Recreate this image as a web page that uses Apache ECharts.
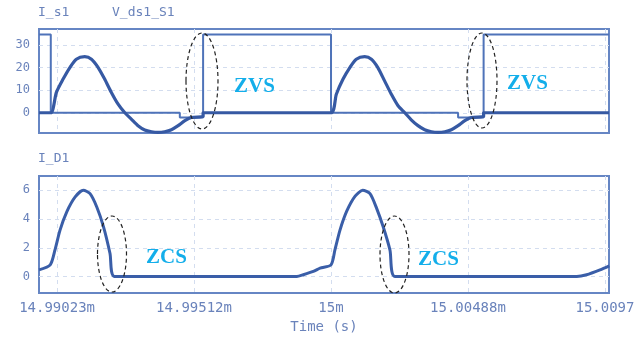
<!DOCTYPE html>
<html>
<head>
<meta charset="utf-8">
<script src="https://cdn.jsdelivr.net/npm/echarts@6/dist/echarts.min.js"></script>
<style>
html,body{margin:0;padding:0;background:#fff;}
#c{width:638px;height:338px;}
</style>
</head>
<body>
<div id="c"></div>
<script>
// ---- data (time in microseconds relative to 15 ms) ----
const xTickValues = [-9.765625, -4.8828125, 0, 4.8828125, 9.765625];
const xTickLabels = ['14.99023m', '14.99512m', '15m', '15.00488m', '15.0097'];
const topYTicks = [0, 10, 20, 30];
const bottomYTicks = [0, 2, 4, 6];

const vdsTime  = [-10.41, -9.99, -9.99, -5.39, -5.39, -4.56, -4.56, 0.0, 0.0, 4.53, 4.53, 5.44, 5.44, 9.91];
const vdsValue = [34.6, 34.6, 0, 0, -2.1, -2.1, 34.6, 34.6, 0, 0, -2.1, -2.1, 34.6, 34.6];

// corner samples are listed twice so the smoothed trace keeps its sharp knees
const isTime = [-10.41, -9.99, -9.99, -9.79, -9.55, -9.31, -9.08, -8.78, -8.54, -8.30, -8.07, -7.83, -7.59, -7.35,
  -7.12, -6.88, -6.64, -6.40, -6.17, -5.93, -5.69, -5.45, -5.21, -4.98, -4.56, -4.56,
  -0.01, -0.01, 0.19, 0.43, 0.67, 0.90, 1.20, 1.44, 1.67, 1.91, 2.15, 2.39, 2.63,
  2.86, 3.10, 3.34, 3.58, 3.82, 4.06, 4.29, 4.53, 4.77, 5.00, 5.44, 5.44, 9.91];
const isValue = [0, 0, 0, 9.0, 14.9, 20.0, 23.7, 24.8, 23.7, 20.0, 14.9, 9.0, 3.8, 0,
  -2.8, -5.7, -7.6, -8.4, -8.7, -8.4, -7.5, -5.7, -3.5, -2.1, -1.6, 0,
  0, 0, 8.2, 14.9, 20.0, 23.7, 24.8, 23.7, 20.0, 14.1, 8.2, 3.1, 0,
  -3.1, -5.7, -7.5, -8.4, -8.7, -8.4, -7.5, -5.7, -3.5, -2.1, -1.6, 0, 0];

const idTime = [-10.41, -10.01, -10.01, -9.84, -9.66, -9.42, -9.12, -8.83, -8.59, -8.35, -8.11, -7.88, -7.72, -7.72,
  -1.22, -0.99, -0.63, -0.39, 0.0, 0.0, 0.14, 0.32, 0.56, 0.86, 1.13, 1.39, 1.63, 1.86, 2.10, 2.28, 2.28,
  8.76, 9.11, 9.59, 9.92];
const idValue = [0.46, 0.81, 0.81, 1.85, 3.23, 4.50, 5.54, 6.0, 5.77, 4.84, 3.46, 1.62, 0, 0,
  0, 0.12, 0.35, 0.58, 0.81, 0.81, 1.85, 3.23, 4.55, 5.60, 6.0, 5.77, 4.73, 3.46, 1.85, 0, 0,
  0, 0.12, 0.46, 0.74];

const zip = (a, b) => a.map((v, i) => [v, b[i]]);

const lblColor = '#6a83bb';
const boxColor = '#6686c4';
const gridDash = '#d3ddef';
const mono = 'DejaVu Sans Mono';

function xAxisCfg(gridIndex, showLabels) {
  return {
    type: 'value', gridIndex: gridIndex, min: -10.41, max: 9.91,
    axisLine: {show: false}, axisTick: {show: false, customValues: xTickValues},
    axisLabel: showLabels ? {
      show: true, customValues: xTickValues, margin: 8,
      color: lblColor, fontFamily: mono, fontSize: 14,
      formatter: v => { const i = xTickValues.findIndex(t => Math.abs(t - v) < 1e-6); return i >= 0 ? xTickLabels[i] : ''; }
    } : {show: false},
    splitLine: {show: true, lineStyle: {color: gridDash, type: [4, 4], width: 1}},
    name: showLabels ? 'Time (s)' : '', nameLocation: 'middle', nameGap: 27,
    nameTextStyle: {color: lblColor, fontFamily: mono, fontSize: 14}
  };
}
function yAxisCfg(gridIndex, min, max, ticks) {
  return {
    type: 'value', gridIndex: gridIndex, min: min, max: max,
    axisLine: {show: false}, axisTick: {show: false, customValues: ticks},
    axisLabel: {customValues: ticks, margin: 9, color: lblColor, fontFamily: mono, fontSize: 12},
    splitLine: {show: true, lineStyle: {color: gridDash, type: [4, 4], width: 1}}
  };
}

const chart = echarts.init(document.getElementById('c'), null, {renderer: 'canvas'});
chart.setOption({
  animation: false,
  backgroundColor: '#fff',
  grid: [
    {left: 39, right: 29, top: 29, height: 104, show: true, borderColor: boxColor, borderWidth: 2, backgroundColor: 'transparent'},
    {left: 39, right: 29, top: 176, height: 117, show: true, borderColor: boxColor, borderWidth: 2, backgroundColor: 'transparent'}
  ],
  xAxis: [xAxisCfg(0, false), xAxisCfg(1, true)],
  yAxis: [yAxisCfg(0, -8.95, 37.05, topYTicks), yAxisCfg(1, -1.15, 7.0, bottomYTicks)],
  series: [
    {name: 'V_ds1_S1', type: 'line', xAxisIndex: 0, yAxisIndex: 0, data: zip(vdsTime, vdsValue),
      showSymbol: false, lineStyle: {color: '#4f73b9', width: 2}, z: 2},
    {name: 'I_s1', type: 'line', xAxisIndex: 0, yAxisIndex: 0, data: zip(isTime, isValue),
      showSymbol: false, smooth: 0.25, lineStyle: {color: '#3659a3', width: 3.2, join: 'round'}, z: 3},
    {name: 'I_D1', type: 'line', xAxisIndex: 1, yAxisIndex: 1, data: zip(idTime, idValue),
      showSymbol: false, smooth: 0.25, lineStyle: {color: '#3a5ea8', width: 3, join: 'round'}, z: 3}
  ],
  graphic: [
    {type: 'text', left: 38, top: 6, style: {text: 'I_s1', fill: lblColor, font: '13px "DejaVu Sans Mono"'}},
    {type: 'text', left: 112, top: 6, style: {text: 'V_ds1_S1', fill: lblColor, font: '13px "DejaVu Sans Mono"'}},
    {type: 'text', left: 38, top: 152, style: {text: 'I_D1', fill: lblColor, font: '13px "DejaVu Sans Mono"'}},
    {type: 'ellipse', shape: {cx: 202, cy: 81, rx: 16, ry: 48}, style: {fill: 'none', stroke: '#222', lineWidth: 1.2, lineDash: [4, 3]}, z: 10},
    {type: 'ellipse', shape: {cx: 482, cy: 80.5, rx: 15, ry: 47.5}, style: {fill: 'none', stroke: '#222', lineWidth: 1.2, lineDash: [4, 3]}, z: 10},
    {type: 'ellipse', shape: {cx: 112, cy: 254, rx: 14.5, ry: 38}, style: {fill: 'none', stroke: '#222', lineWidth: 1.2, lineDash: [4, 3]}, z: 10},
    {type: 'ellipse', shape: {cx: 394.5, cy: 254.5, rx: 14.5, ry: 38.5}, style: {fill: 'none', stroke: '#222', lineWidth: 1.2, lineDash: [4, 3]}, z: 10},
    {type: 'text', left: 234, top: 76, style: {text: 'ZVS', fill: '#13aeea', font: 'bold 21px "Liberation Serif"'}, z: 10},
    {type: 'text', left: 507, top: 73, style: {text: 'ZVS', fill: '#13aeea', font: 'bold 21px "Liberation Serif"'}, z: 10},
    {type: 'text', left: 146, top: 247, style: {text: 'ZCS', fill: '#13aeea', font: 'bold 21px "Liberation Serif"'}, z: 10},
    {type: 'text', left: 418, top: 249, style: {text: 'ZCS', fill: '#13aeea', font: 'bold 21px "Liberation Serif"'}, z: 10}
  ]
});
</script>
</body>
</html>
